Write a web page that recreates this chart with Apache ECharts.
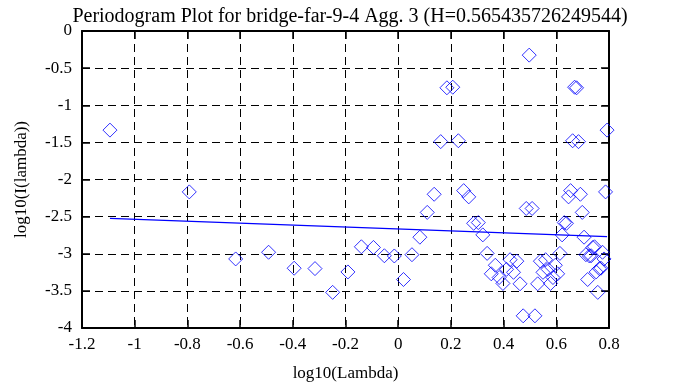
<!DOCTYPE html>
<html><head><meta charset="utf-8">
<script src="https://cdn.jsdelivr.net/npm/echarts@6/dist/echarts.min.js"></script>
<style>html,body{margin:0;padding:0;background:#fff}#c{width:673px;height:387px}</style>
</head><body><div id="c"></div>
<script>
const titleText = 'Periodogram Plot for bridge-far-9-4 Agg. 3 (H=0.565435726249544)';
const xName = 'log10(Lambda)';
const yName = 'log10(I(lambda))';

const logLambda = [
 -1.0939,-0.7929,-0.6168,-0.4919,-0.3949,-0.3158,-0.2488,-0.1908,-0.1397,-0.0939,
 -0.0525,-0.0147,0.0200,0.0522,0.0822,0.1102,0.1365,0.1614,0.1848,0.2071,
 0.2283,0.2485,0.2678,0.2863,0.3040,0.3211,0.3375,0.3533,0.3685,0.3832,
 0.3974,0.4112,0.4246,0.4376,0.4502,0.4624,0.4743,0.4859,0.4972,0.5082,
 0.5189,0.5293,0.5396,0.5495,0.5593,0.5689,0.5782,0.5873,0.5963,0.6051,
 0.6137,0.6221,0.6304,0.6385,0.6465,0.6543,0.6620,0.6695,0.6769,0.6842,
 0.6914,0.6985,0.7054,0.7123,0.7190,0.7256,0.7322,0.7386,0.7449,0.7512,
 0.7574,0.7634,0.7694,0.7753,0.7812,0.7869,0.7926
];
const logI = [
 -1.335,-2.167,-3.070,-2.980,-3.195,-3.200,-3.520,-3.245,-2.906,-2.915,
 -3.027,-3.030,-3.347,-3.013,-2.777,-2.443,-2.199,-1.490,-0.765,-0.757,
 -1.478,-2.150,-2.234,-2.590,-2.580,-2.746,-2.995,-3.270,-3.155,-3.320,
 -3.400,-3.210,-3.080,-3.250,-3.100,-3.405,-3.836,-2.390,-0.325,-2.390,
 -3.836,-3.405,-3.100,-3.250,-3.080,-3.210,-3.400,-3.320,-3.155,-3.270,
 -2.995,-2.746,-2.580,-2.590,-2.234,-2.150,-1.478,-0.757,-0.765,-1.490,
 -2.199,-2.443,-2.777,-3.013,-3.347,-3.030,-3.027,-2.915,-2.906,-3.245,
 -3.520,-3.200,-3.195,-2.980,-3.070,-2.167,-1.335
];
const fitX = [-1.0939, 0.7926];
const fitY = [-2.523, -2.770];

const FONT = 'Liberation Serif';
const chart = echarts.init(document.getElementById('c'), null, {renderer: 'canvas'});
const pts = logLambda.map((x, i) => [x, logI[i]]);
const fitPts = fitX.map((x, i) => [x, fitY[i]]);

const split = {show: true, lineStyle: {color: '#000', width: 1, type: [8, 5]}};
const axisLine = {show: true, onZero: false, lineStyle: {color: '#000', width: 2}};
const tick = {show: true, inside: true, length: 8, lineStyle: {color: '#000', width: 1.5}};

chart.setOption({
  animation: false,
  backgroundColor: '#fff',
  title: {text: titleText, left: 345, top: 2, textAlign: 'center',
    textStyle: {fontFamily: FONT, fontSize: 20, fontWeight: 'normal', color: '#000'}},
  grid: {left: 82, right: 64, top: 31, bottom: 56},
  xAxis: [
    {type: 'value', position: 'bottom', min: -1.2, max: 0.8, interval: 0.2,
     name: xName, nameLocation: 'middle', nameGap: 37,
     nameTextStyle: {fontFamily: FONT, fontSize: 17, color: '#000'},
     axisLine: axisLine, axisTick: tick, splitLine: split,
     axisLabel: {fontFamily: FONT, fontSize: 17, color: '#000', margin: 8}},
    {type: 'value', position: 'top', min: -1.2, max: 0.8, interval: 0.2,
     axisLine: axisLine, axisTick: tick, splitLine: {show: false}, axisLabel: {show: false}}
  ],
  yAxis: [
    {type: 'value', position: 'left', min: -4, max: 0, interval: 0.5,
     name: yName, nameLocation: 'middle', nameGap: 52,
     nameTextStyle: {fontFamily: FONT, fontSize: 17, color: '#000'},
     axisLine: axisLine, axisTick: tick, splitLine: split,
     axisLabel: {fontFamily: FONT, fontSize: 17, color: '#000', margin: 10}},
    {type: 'value', position: 'right', min: -4, max: 0, interval: 0.5,
     axisLine: axisLine, axisTick: tick, splitLine: {show: false}, axisLabel: {show: false}}
  ],
  series: [
    {type: 'scatter', xAxisIndex: 0, yAxisIndex: 0, data: pts,
     symbol: 'diamond', symbolSize: 14,
     itemStyle: {color: 'rgba(0,0,0,0)', borderColor: '#0000ff', borderWidth: 1}},
    {type: 'line', xAxisIndex: 0, yAxisIndex: 0, data: fitPts, showSymbol: false,
     symbol: 'none', lineStyle: {color: '#0000ff', width: 1.2}}
  ]
});
</script>
</body></html>
